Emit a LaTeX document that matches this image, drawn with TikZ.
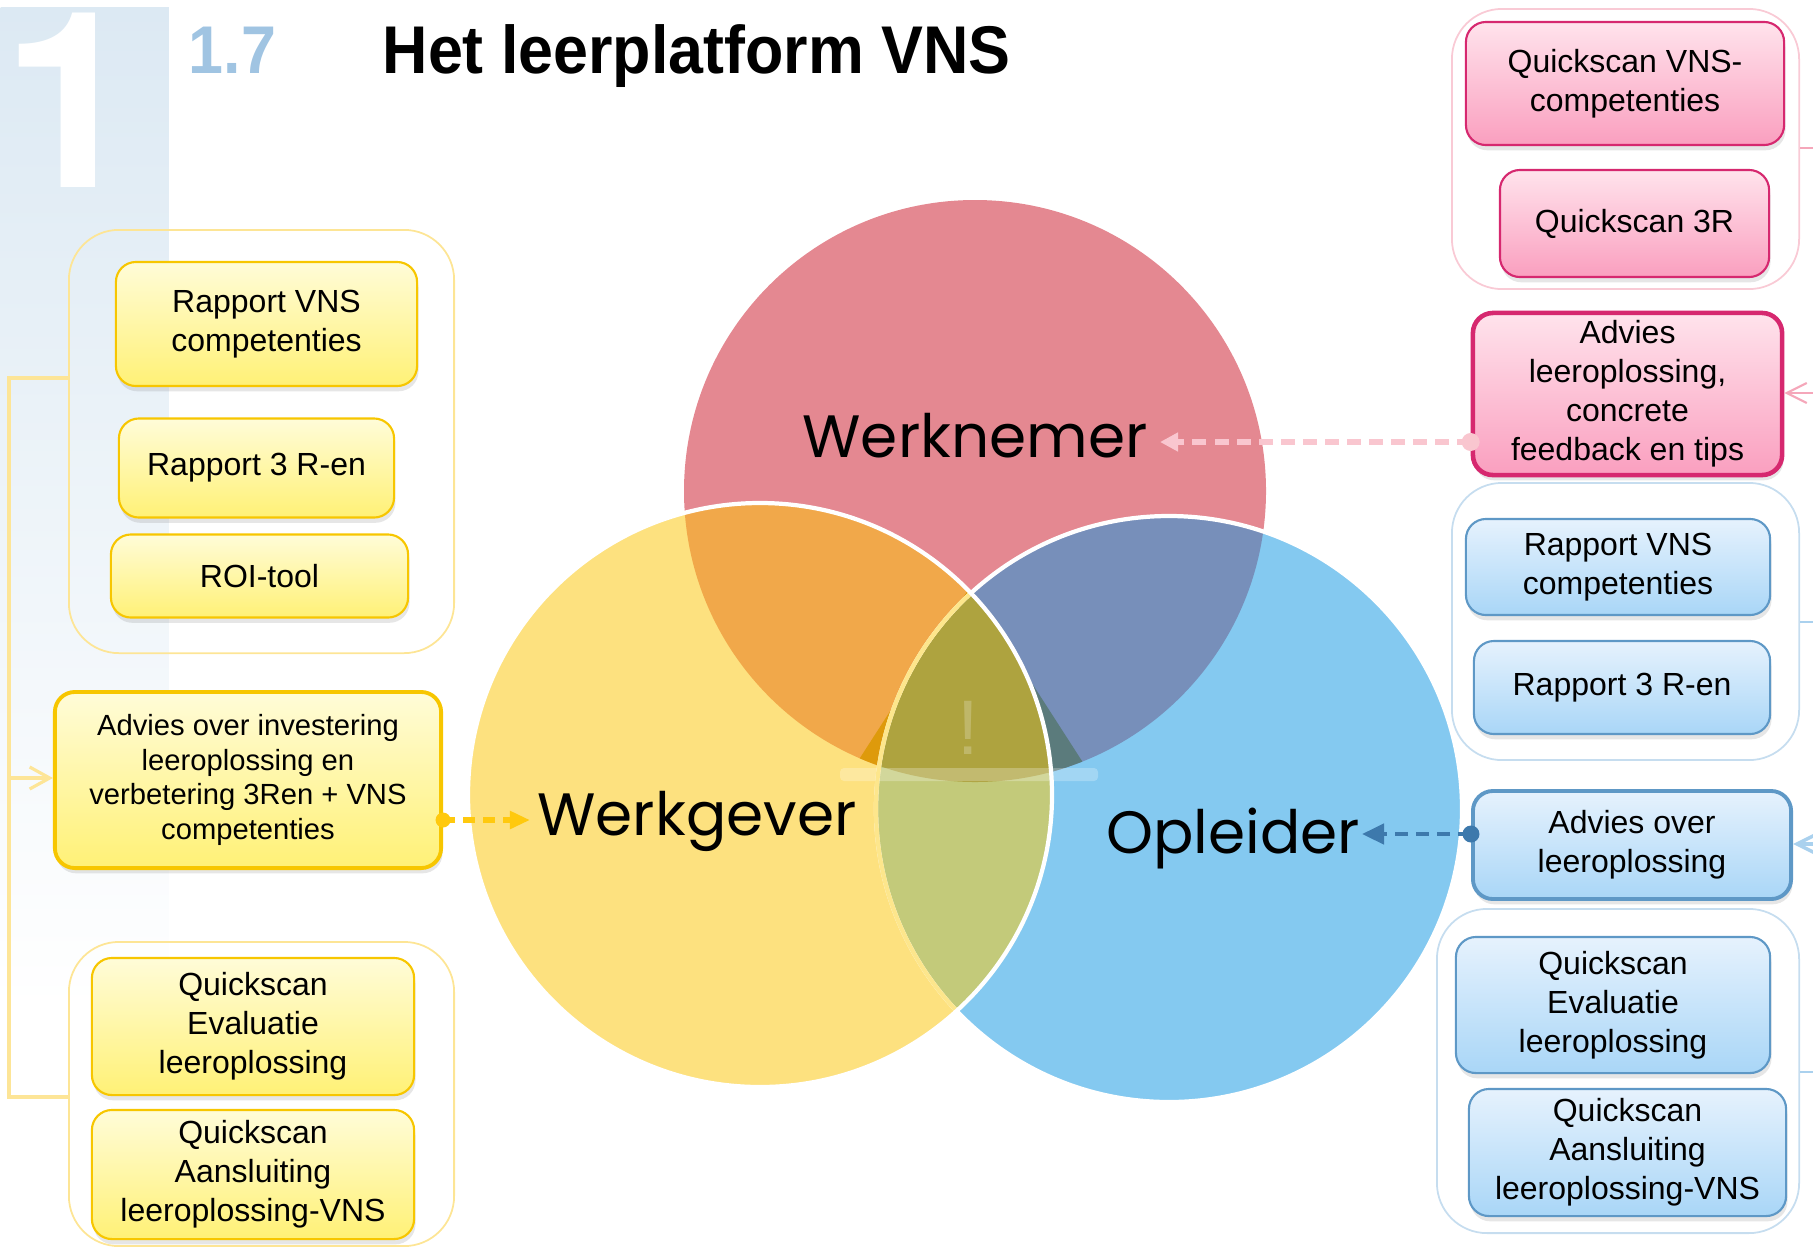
\documentclass[tikz,border=0pt]{standalone}
\usepackage{fontspec}
\setmainfont{Liberation Sans}
\newfontfamily\numfont{TeX Gyre Heros}
\newfontfamily\titlefont[FakeStretch=0.93]{Liberation Sans}
\newfontfamily\vennfont{Poppins}
\usetikzlibrary{arrows.meta,shadows}
% venn colours
\definecolor{cRed}{HTML}{E48891}
\definecolor{cYel}{HTML}{FDE17F}
\definecolor{cBlu}{HTML}{84C9F0}
\definecolor{cOra}{HTML}{F1A84A}
\definecolor{cPur}{HTML}{778FBA}
\definecolor{cGrn}{HTML}{C3CA7A}
\definecolor{cOli}{HTML}{AEA33F}
\definecolor{cDkOra}{HTML}{DE9A0B}
\definecolor{cTeal}{HTML}{5B7B7C}
\definecolor{cArc}{HTML}{FDE68C}
% box colours
\definecolor{ygold}{HTML}{F7C600}
\definecolor{ytop}{HTML}{FFFCD8}
\definecolor{ybot}{HTML}{FFF176}
\definecolor{ygrp}{HTML}{FDE595}
\definecolor{pline}{HTML}{D6286F}
\definecolor{ptop}{HTML}{FFE3EC}
\definecolor{pbot}{HTML}{FA9FBF}
\definecolor{pgrp}{HTML}{F9CAD5}
\definecolor{bline}{HTML}{5E98C6}
\definecolor{btop}{HTML}{E6F2FD}
\definecolor{bbot}{HTML}{A9D6F7}
\definecolor{bgrp}{HTML}{C6DDEF}
\definecolor{panel}{HTML}{DCE9F3}
\definecolor{numblue}{HTML}{A0C4E2}
\definecolor{dashY}{HTML}{FFC90E}
\definecolor{dashP}{HTML}{F9C6CF}
\definecolor{dashB}{HTML}{3D79AC}
\definecolor{connY}{HTML}{FDE597}
\definecolor{connP}{HTML}{F5A7BA}
\definecolor{connB}{HTML}{AAD1EE}
\tikzset{
	box/.style={rounded corners=0.2cm, line width=0.6pt, align=center, inner sep=0pt,
		font=\fontsize{9.1}{11.05}\selectfont,
		drop shadow={opacity=0.2, shadow xshift=0.4pt, shadow yshift=-1.5pt}},
	boxY/.style={box, draw=ygold, top color=ytop, bottom color=ybot},
	boxP/.style={box, draw=pline, top color=ptop, bottom color=pbot},
	boxB/.style={box, draw=bline, top color=btop, bottom color=bbot},
	grp/.style={rounded corners=0.5cm, line width=0.5pt, inner sep=0pt},
	vlabel/.style={anchor=base, inner sep=0pt, font=\vennfont\fontsize{17}{20}\selectfont},
	dashline/.style={line width=1.6pt, dash pattern=on 0.14cm off 0.08cm},
	edge/.style={line width=0.6pt},
}
\begin{document}
\begin{tikzpicture}[x=0.01cm,y=-0.01cm]
	\useasboundingbox (0,0) rectangle (1813,1248);
	% side panel with chapter number
	\node[anchor=north west, inner sep=0pt, minimum width=1.68cm, minimum height=10cm,
		top color=panel, bottom color=white] (panel) at (0,7) {};
	\begin{scope}
		\clip (0,7) rectangle (168,1248);
		\node[anchor=base west, inner sep=0pt, text=white, font=\numfont\bfseries\fontsize{70}{70}\selectfont] (bigone) at (2,187) {1};
	\end{scope}
	\node[anchor=base west, inner sep=0pt, text=numblue, font=\titlefont\bfseries\fontsize{19.2}{22}\selectfont] (num) at (188,73) {1.7};
	\node[anchor=base west, inner sep=0pt, font=\titlefont\bfseries\fontsize{19.2}{22}\selectfont] (title) at (382,73) {Het leerplatform VNS};
	% venn
	\coordinate (Wn) at (975,491);
	\coordinate (Wg) at (760,795);
	\coordinate (Op) at (1169,809);
	\fill[cRed] (Wn) circle (291);
	\fill[cYel] (Wg) circle (292);
	\fill[cBlu] (Op) circle (293);
	\begin{scope}
		\clip (Wn) circle (291);
		\fill[cOra] (Wg) circle (292);
		\fill[cPur] (Op) circle (293);
	\end{scope}
	\begin{scope}
		\clip (Wn) circle (291);
		\clip (970,587) -- (849,775) -- (1091,775) -- cycle;
		\fill[cDkOra] (Wg) circle (292);
		\fill[cTeal] (Op) circle (293);
	\end{scope}
	\begin{scope}
		\clip (Wg) circle (292);
		\fill[cGrn] (Op) circle (293);
		\clip (Wn) circle (291);
		\fill[cOli] (Op) circle (293);
	\end{scope}
	\fill[white, opacity=0.25, rounded corners=0.04cm] (840,768) rectangle (1098,781);
	\node[inner sep=0pt, text=white, text opacity=0.22, font=\fontsize{22}{22}\selectfont] (warn) at (968,728) {!};
	\draw[white, line width=1.2pt] (Op) circle (293);
	\begin{scope}
		\clip (Wg) circle (292);
		\draw[cArc, line width=1.2pt] (Op) circle (293);
	\end{scope}
	\draw[white, line width=1.2pt] (Wg) circle (292);
	\node[vlabel] (lblWn) at (975,457) {Werknemer};
	\node[vlabel] (lblWg) at (697,835) {Werkgever};
	\node[vlabel] (lblOp) at (1233,853) {Opleider};
	% yellow side
	\node[grp, draw=ygrp, minimum width=3.85cm, minimum height=4.23cm] (grpYa) at (261.5,441.5) {};
	\node[boxY, minimum width=3.01cm, minimum height=1.24cm] (rapVNSy) at (266.5,324) {Rapport VNS\\competenties};
	\node[boxY, minimum width=2.75cm, minimum height=0.99cm] (rap3Ry) at (256.5,468) {Rapport 3 R-en};
	\node[boxY, minimum width=2.97cm, minimum height=0.83cm] (roi) at (259.5,576) {ROI-tool};
	\node[boxY, line width=1.1pt, minimum width=3.86cm, minimum height=1.76cm,
		font=\fontsize{8.3}{9.85}\selectfont] (advY) at (248,780) {Advies over investering\\leeroplossing en\\verbetering 3Ren + VNS\\competenties};
	\node[grp, draw=ygrp, minimum width=3.85cm, minimum height=3.04cm] (grpYb) at (261.5,1094) {};
	\node[boxY, minimum width=3.22cm, minimum height=1.37cm] (qeY) at (253,1026.5) {Quickscan\\Evaluatie\\leeroplossing};
	\node[boxY, minimum width=3.22cm, minimum height=1.29cm] (qaY) at (253,1174.5) {Quickscan\\Aansluiting\\leeroplossing-VNS};
	% pink side
	\node[grp, draw=pgrp, minimum width=3.47cm, minimum height=2.80cm] (grpP) at (1625.5,149) {};
	\node[boxP, minimum width=3.18cm, minimum height=1.23cm] (qVNS) at (1625,83.5) {Quickscan VNS-\\competenties};
	\node[boxP, minimum width=2.69cm, minimum height=1.07cm] (q3R) at (1634.5,223.5) {Quickscan 3R};
	\node[boxP, line width=1.3pt, minimum width=3.09cm, minimum height=1.62cm] (advP) at (1627.5,394) {Advies\\leeroplossing,\\concrete\\feedback en tips};
	% blue side
	\node[grp, draw=bgrp, minimum width=3.47cm, minimum height=2.77cm] (grpBa) at (1625.5,621.5) {};
	\node[boxB, minimum width=3.04cm, minimum height=0.96cm] (rapVNSb) at (1618,567) {Rapport VNS\\competenties};
	\node[boxB, minimum width=2.96cm, minimum height=0.93cm] (rap3Rb) at (1622,687.5) {Rapport 3 R-en};
	\node[boxB, line width=1.1pt, minimum width=3.18cm, minimum height=1.08cm] (advB) at (1632,845) {Advies over\\leeroplossing};
	\node[grp, draw=bgrp, minimum width=3.62cm, minimum height=3.24cm] (grpBb) at (1618,1071) {};
	\node[boxB, minimum width=3.14cm, minimum height=1.36cm] (qeB) at (1613,1005) {Quickscan\\Evaluatie\\leeroplossing};
	\node[boxB, minimum width=3.17cm, minimum height=1.27cm] (qaB) at (1627.5,1152.5) {Quickscan\\Aansluiting\\leeroplossing-VNS};
	% dashed arrows into the circles
	\coordinate (wgTip) at (530,820);
	\coordinate (wnTip) at (1160,442);
	\coordinate (opTip) at (1362,834);
	\draw[dashY, dashline, dash pattern=on 0.12cm off 0.08cm, -{Triangle[length=0.2cm,width=0.17cm]}] (advY.east |- wgTip) -- (wgTip);
	\fill[dashY] (advY.east |- wgTip) circle (7.5);
	\draw[dashP, dashline, -{Triangle[length=0.18cm,width=0.18cm]}] (advP.west |- wnTip) -- (wnTip);
	\fill[dashP] (advP.west |- wnTip) circle (9);
	\draw[dashB, dashline, line width=1.3pt, dash pattern=on 0.13cm off 0.08cm, -{Triangle[length=0.22cm,width=0.2cm]}] (advB.west |- opTip) -- (opTip);
	\fill[dashB] (advB.west |- opTip) circle (8.5);
	% connectors at the edges
	\coordinate (lTop) at (9,378);
	\coordinate (lMid) at (9,778);
	\coordinate (lBot) at (9,1097);
	\draw[connY, line width=0.9pt] (grpYa.west |- lTop) -- (lTop) -- (lBot) -- (grpYb.west |- lBot);
	\draw[connY, line width=0.9pt, -{Straight Barb[length=0.2cm,width=0.22cm]}] (lMid) -- (advY.west |- lMid);
	\coordinate (rP) at (1813,148);
	\coordinate (rPa) at (1813,393);
	\coordinate (rB) at (1813,622);
	\coordinate (rBa) at (1813,844);
	\coordinate (rBb) at (1813,1072);
	\draw[connP, edge] (grpP.east |- rP) -- (rP);
	\draw[connP, edge, -{Straight Barb[length=0.2cm,width=0.2cm]}] (rPa) -- (advP.east |- rPa);
	\draw[connB, edge] (grpBa.east |- rB) -- (rB);
	\draw[connB, line width=1pt, -{Straight Barb[length=0.2cm,width=0.2cm]}] (rBa) -- (advB.east |- rBa);
	\draw[connB, edge] (grpBb.east |- rBb) -- (rBb);
\end{tikzpicture}
\end{document}
